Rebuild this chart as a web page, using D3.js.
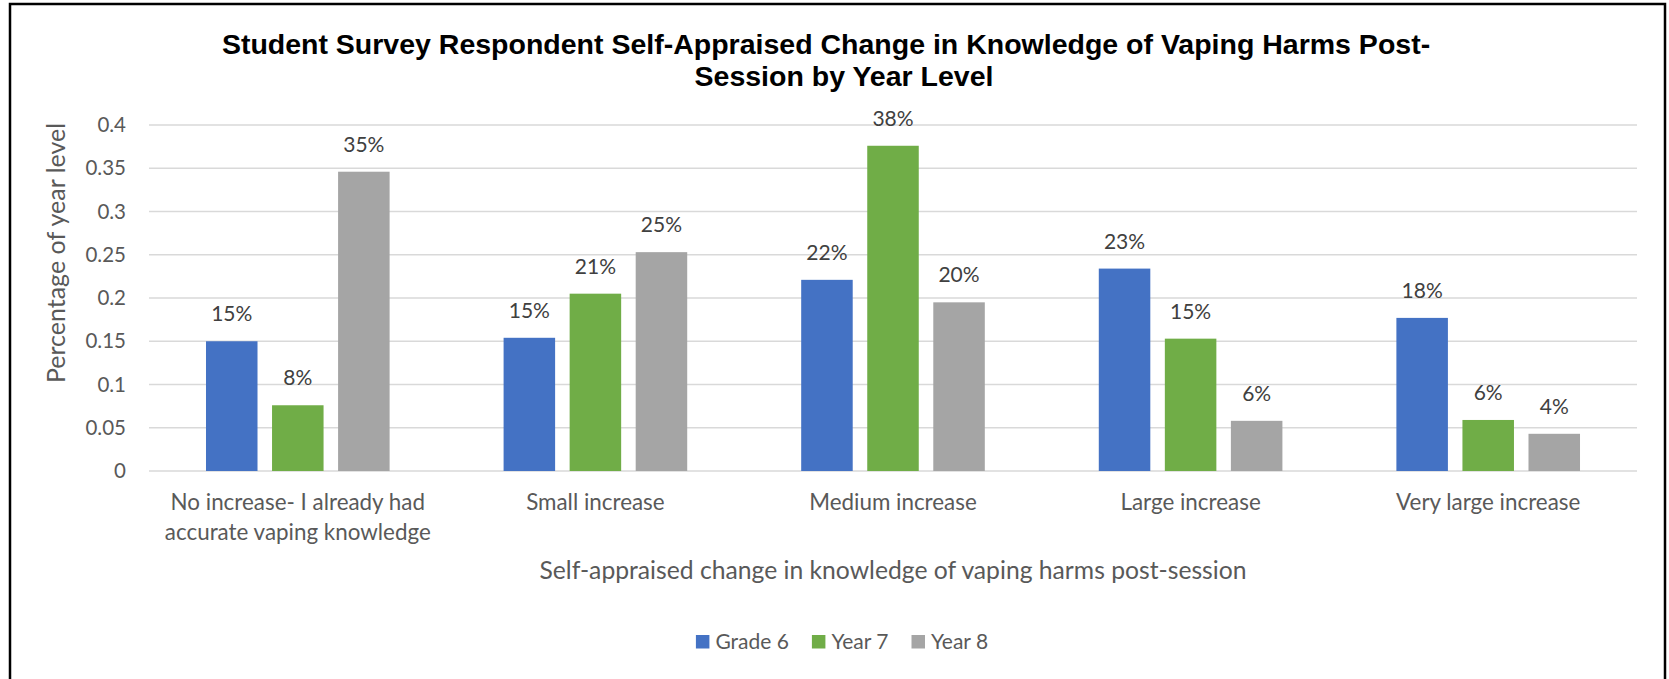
<!DOCTYPE html>
<html lang="en">
<head>
    <meta charset="UTF-8">
    <title>Self-Appraised Change in Knowledge of Vaping Harms</title>
    <script src="https://cdnjs.cloudflare.com/ajax/libs/d3/7.8.5/d3.min.js"></script>
    <style>
        body { margin: 0; background: #fff; }
        svg { display: block; }
        .tick-label, .cat-label, .axis-title, .legend-text, .data-label {
            font-family: Lato, "Open Sans", sans-serif;
            fill: #595959;
        }
        .data-label { fill: #404040; }
        .chart-title {
            font-family: "Liberation Sans", Arial, sans-serif;
            font-weight: bold;
            fill: #000;
        }
    </style>
</head>
<body>
    <div id="chart"></div>

    <script>
        // Chart data
        const categories = [
            "No increase- I already had\naccurate vaping knowledge",
            "Small increase",
            "Medium increase",
            "Large increase",
            "Very large increase"
        ];
        const seriesNames = ["Grade 6", "Year 7", "Year 8"];
        const grade6 = [0.150, 0.154, 0.221, 0.234, 0.177];
        const year7 = [0.076, 0.205, 0.376, 0.153, 0.059];
        const year8 = [0.346, 0.253, 0.195, 0.058, 0.043];
        const seriesColors = ["#4472C4", "#70AD47", "#A5A5A5"];

        const titleLines = [
            "Student Survey Respondent Self-Appraised Change in Knowledge of Vaping Harms Post-",
            "Session by Year Level"
        ];
        const yAxisTitle = "Percentage of year level";
        const xAxisTitle = "Self-appraised change in knowledge of vaping harms post-session";

        const seriesValues = [grade6, year7, year8];

        // Dimensions
        const width = 1669;
        const height = 679;
        const margin = { top: 125, right: 32, bottom: 208, left: 149 };
        const chartCenter = 838;

        const svg = d3.select("#chart").append("svg")
            .attr("width", width)
            .attr("height", height);

        // Outer border of the chart area
        svg.append("rect")
            .attr("x", 10)
            .attr("y", 4)
            .attr("width", 1655)
            .attr("height", 720)
            .attr("fill", "none")
            .attr("stroke", "#000")
            .attr("stroke-width", 2.5);

        // Scales
        const x0 = d3.scaleBand()
            .domain(categories)
            .range([margin.left, width - margin.right])
            .padding(0);

        const groupWidth = x0.bandwidth() * 0.617;
        const x1 = d3.scaleBand()
            .domain(seriesNames)
            .range([(x0.bandwidth() - groupWidth) / 2, (x0.bandwidth() + groupWidth) / 2])
            .paddingInner(0.22);

        const y = d3.scaleLinear()
            .domain([0, 0.4])
            .range([height - margin.bottom, margin.top]);

        // Gridlines and y tick labels
        const ticks = y.ticks(8);
        svg.append("g").selectAll("line")
            .data(ticks)
            .enter().append("line")
            .attr("x1", margin.left)
            .attr("x2", width - margin.right)
            .attr("y1", d => y(d))
            .attr("y2", d => y(d))
            .attr("stroke", "#D9D9D9")
            .attr("stroke-width", 1.5);

        svg.append("g").selectAll("text")
            .data(ticks)
            .enter().append("text")
            .attr("class", "tick-label")
            .attr("x", margin.left - 23)
            .attr("y", d => y(d))
            .attr("dy", "0.35em")
            .attr("text-anchor", "end")
            .style("font-size", "20.5px")
            .text(d => d === 0 ? "0" : String(+d.toFixed(2)));

        // Bars
        const groups = svg.append("g").selectAll("g")
            .data(categories)
            .enter().append("g")
            .attr("transform", d => `translate(${x0(d)},0)`);

        const barData = (cat, ci) => seriesNames.map((s, si) => ({
            series: s, value: seriesValues[si][ci], color: seriesColors[si]
        }));

        groups.selectAll("rect")
            .data((d, i) => barData(d, i))
            .enter().append("rect")
            .attr("x", d => x1(d.series))
            .attr("y", d => y(d.value))
            .attr("width", x1.bandwidth())
            .attr("height", d => y(0) - y(d.value))
            .attr("fill", d => d.color);

        // Data labels
        groups.selectAll("text")
            .data((d, i) => barData(d, i))
            .enter().append("text")
            .attr("class", "data-label")
            .attr("x", d => x1(d.series) + x1.bandwidth() / 2)
            .attr("y", d => y(d.value) - 20)
            .attr("text-anchor", "middle")
            .style("font-size", "21px")
            .text(d => d3.format(".0%")(d.value));

        // Category labels
        const catLabels = svg.append("g").selectAll("text")
            .data(categories)
            .enter().append("text")
            .attr("class", "cat-label")
            .attr("x", d => x0(d) + x0.bandwidth() / 2)
            .attr("y", y(0) + 39)
            .attr("text-anchor", "middle")
            .style("font-size", "22.4px");

        catLabels.selectAll("tspan")
            .data(d => d.split("\n"))
            .enter().append("tspan")
            .attr("x", function() { return this.parentNode.getAttribute("x"); })
            .attr("dy", (d, i) => i === 0 ? 0 : 29.5)
            .text(d => d);

        // Axis titles
        svg.append("text")
            .attr("class", "axis-title")
            .attr("x", (margin.left + width - margin.right) / 2)
            .attr("y", y(0) + 108)
            .attr("text-anchor", "middle")
            .style("font-size", "24.7px")
            .text(xAxisTitle);

        svg.append("text")
            .attr("class", "axis-title")
            .attr("transform", "translate(65,253) rotate(-90)")
            .attr("text-anchor", "middle")
            .style("font-size", "25px")
            .text(yAxisTitle);

        // Title
        svg.append("text")
            .attr("class", "chart-title")
            .attr("x", chartCenter)
            .attr("y", 54)
            .attr("text-anchor", "middle")
            .style("font-size", "28.5px")
            .selectAll("tspan")
            .data(titleLines)
            .enter().append("tspan")
            .attr("x", (d, i) => i === 0 ? chartCenter - 12 : chartCenter + 6)
            .attr("dy", (d, i) => i === 0 ? 0 : 32)
            .text(d => d);

        // Legend, centred under the chart
        const legend = svg.append("g");
        let lx = 0;
        seriesNames.forEach((name, i) => {
            const item = legend.append("g").attr("transform", `translate(${lx},0)`);
            item.append("rect")
                .attr("x", 0)
                .attr("y", 635)
                .attr("width", 13.5)
                .attr("height", 13.5)
                .attr("fill", seriesColors[i]);
            const t = item.append("text")
                .attr("class", "legend-text")
                .attr("x", 19.5)
                .attr("y", 649)
                .style("font-size", "21px")
                .text(name);
            lx += 19.5 + t.node().getComputedTextLength() + 23;
        });
        const legendWidth = lx - 23;
        legend.attr("transform", `translate(${chartCenter + 4 - legendWidth / 2},0)`);
    </script>
</body>
</html>
